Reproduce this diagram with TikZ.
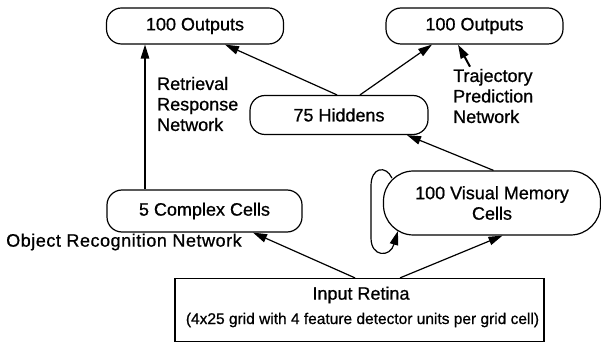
\documentclass[tikz,border=0pt]{standalone}
\usepackage{fontspec}
\setmainfont[FakeBold=0.8]{Liberation Sans}
\usetikzlibrary{arrows.meta,calc}
\begin{document}
\begin{tikzpicture}[x=1pt,y=-1pt,
  every node/.style={font=\fontsize{18}{20.5}\selectfont},
  unit/.style={draw,line width=1.2pt,rounded corners=15pt,inner sep=0pt},
  label/.style={align=left,inner sep=0pt,anchor=west},
  arr/.style={line width=1.2pt,-{Triangle[length=14pt,width=8.5pt]}}]
\useasboundingbox (0,0) rectangle (601,344);

% units of the network
\node[unit,minimum width=177pt,minimum height=36pt] (outL) at (195,26) {100 Outputs};
\node[unit,minimum width=177pt,minimum height=36pt] (outR) at (474.5,26) {100 Outputs};
\node[unit,minimum width=178pt,minimum height=39pt] (hid) at (339,115) {75 Hiddens};
\node[unit,minimum width=195pt,minimum height=42pt] (cc) at (204.5,211) {5 Complex Cells};
\node[unit,rounded corners=30pt,minimum width=217pt,minimum height=64pt,align=center] (vm) at (492,203) {100 Visual Memory\\Cells};
\node[draw,line width=1.2pt,minimum width=369pt,minimum height=63pt,inner sep=0pt] (ret) at (359.5,310) {};
\node[inner sep=0pt] (retA) at (361,295) {Input Retina};
\node[inner sep=0pt,font=\fontsize{15.5}{18}\selectfont] (retB) at (362.5,320) {(4x25 grid with 4 feature detector units per grid cell)};

% network names
\node[label] (rrn) at (157,104) {Retrieval\\Response\\Network};
\node[label] (tpn) at (453,96) {Trajectory\\Prediction\\Network};
\node[label,font=\fontsize{18}{20.5}\selectfont\addfontfeature{LetterSpace=3}] (orn) at (6,242) {Object Recognition Network};

% connections
\draw[arr] ($(cc.north)+(-59.5,0)$) -- ($(outL.south)+(-50,0)$);
\draw[arr] ($(hid.north)+(-2,0)$) -- ($(outL.south)+(30,0)$);
\draw[arr] ($(hid.north)+(21,0)$) -- ($(outR.south)+(-42.5,0)$);
\draw[arr,line width=2pt] ($(tpn.north west)+(17,-2)$) -- ($(outR.south)+(-16.5,0)$);
\draw[arr] ($(vm.north)+(1.5,0)$) -- ($(hid.south)+(68,0)$);
\draw[arr] ($(ret.north)+(-4.5,0)$) -- ($(cc.south)+(48.5,0)$);
\draw[arr] ($(ret.north)+(40.5,0)$) -- ($(vm.south)+(10.5,0)$);

% recurrent loop on the memory cells
\draw[arr] ($(vm.west)+(9,-25)$) .. controls (386,165) and (371,167) .. (371,186)
  -- (371,238) .. controls (371,257) and (390,258) .. ($(vm.west)+(15,28)$);
\end{tikzpicture}
\end{document}
